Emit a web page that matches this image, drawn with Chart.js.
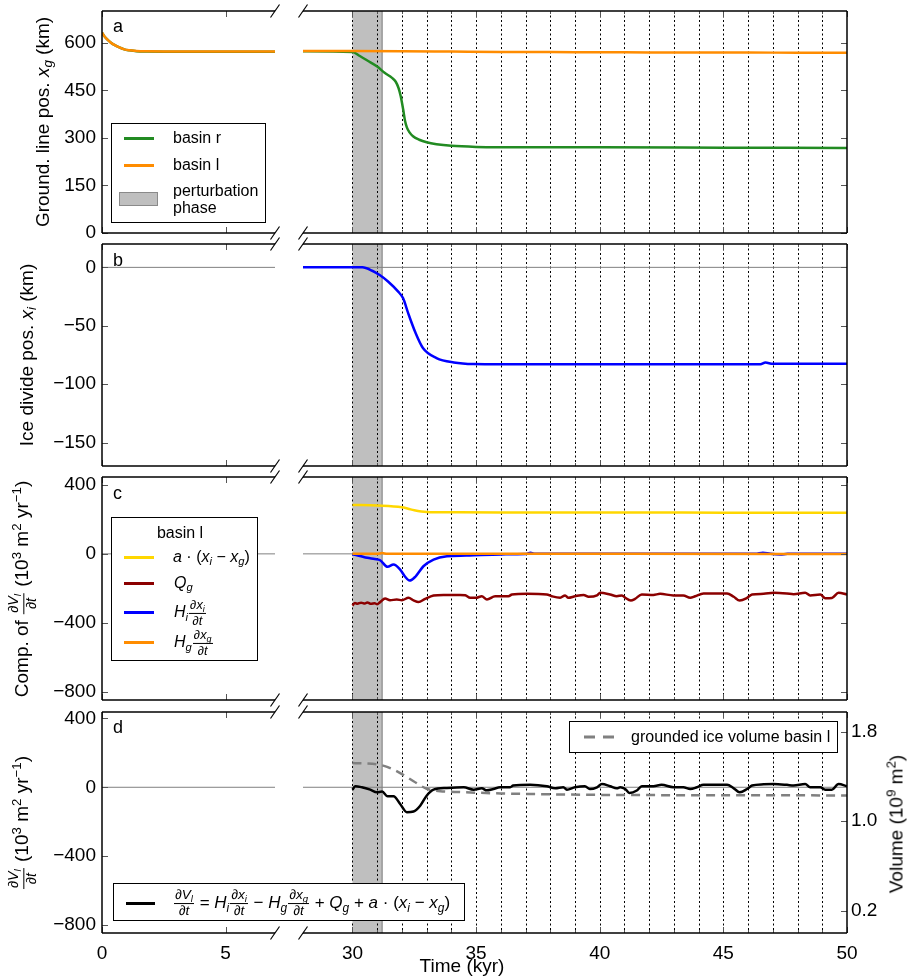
<!DOCTYPE html>
<html><head><meta charset="utf-8">
<script src="https://cdn.jsdelivr.net/npm/chart.js@4.4.1/dist/chart.umd.min.js"></script>
<style>
html,body{margin:0;padding:0;background:#fff;}
#fig{position:relative;width:907px;height:979px;overflow:hidden;font-family:"Liberation Sans",Arial,sans-serif;color:#000;}
#fig canvas{position:absolute;}
.yl{position:absolute;white-space:nowrap;font-size:19px;line-height:1;transform:translate(-50%,-50%) rotate(-90deg);}
.lab{position:absolute;white-space:nowrap;line-height:1;transform:translate(-50%,-50%);}
.let{position:absolute;font-size:18px;line-height:1;}
.leg{position:absolute;border:1px solid #000;background:#fff;box-sizing:border-box;font-size:16px;}
.lt{position:absolute;white-space:nowrap;line-height:1;transform:translateY(-50%);}
.sw{position:absolute;height:0;}
.s{font-size:0.7em;vertical-align:-0.3em;line-height:0;font-style:italic;}
.p{font-size:0.7em;vertical-align:0.55em;line-height:0;}
.fr{display:inline-block;vertical-align:middle;text-align:center;font-size:0.75em;line-height:1.1;margin:0 1px;}
.fr>span{display:block;}
.fr>span:first-child{border-bottom:1px solid currentColor;padding:0 1px 1px;}
.big .fr{font-size:0.8em;}
</style></head>
<body>
<div id="fig">
  <!-- panel letters -->
  <div class="let" style="left:113px;top:17px">a</div>
  <div class="let" style="left:113px;top:251px">b</div>
  <div class="let" style="left:113px;top:484px">c</div>
  <div class="let" style="left:113px;top:718px">d</div>

  <!-- axis titles -->
  <div class="yl" style="left:42px;top:122px">Ground. line pos. <i>x</i><span class="s">g</span> (km)</div>
  <div class="yl" style="left:26px;top:355px">Ice divide pos. <i>x</i><span class="s">i</span> (km)</div>
  <div class="yl" style="left:23px;top:589px">Comp. of <span class="fr"><span>∂<i>V</i><span class="s">l</span></span><span>∂<i>t</i></span></span> (10<span class="p">3</span> m<span class="p">2</span> yr<span class="p">−1</span>)</div>
  <div class="yl" style="left:23px;top:823px"><span class="fr"><span>∂<i>V</i><span class="s">l</span></span><span>∂<i>t</i></span></span> (10<span class="p">3</span> m<span class="p">2</span> yr<span class="p">−1</span>)</div>
  <div class="yl" style="left:896px;top:824px">Volume (10<span class="p">9</span> m<span class="p">2</span>)</div>
  <div class="lab" style="left:462px;top:965px;font-size:19px">Time (kyr)</div>
</div>

<script>
const FONT = '"Liberation Sans", Arial, sans-serif';
Chart.defaults.font.family = FONT;

// ---------------- axes / ticks ----------------
const xRangeLeft  = [0, 7];
const xRangeRight = [28, 50];
const xTicksLeft  = [0, 5];
const xTicksRight = [30, 35, 40, 45, 50];
const xMinorRight = [31, 32, 33, 34, 36, 37, 38, 39, 41, 42, 43, 44, 46, 47, 48, 49];
const kyrGridLines = [30, 31, 32, 33, 34, 35, 36, 37, 38, 39, 40, 41, 42, 43, 44, 45, 46, 47, 48, 49];
const perturbationPhase = [30, 31.2];

const yRangeA = [0, 700];     const yTicksA = [0, 150, 300, 450, 600];
const yRangeB = [-170, 20];   const yTicksB = [-150, -100, -50, 0];
const yRangeC = [-848, 446];  const yTicksC = [-800, -400, 0, 400];
const yRangeD = [-846, 437];  const yTicksD = [-800, -400, 0, 400];
const volRange = [0, 1.976];  const volTicks = [0.2, 1.0, 1.8];

// ---------------- panel a: grounding line position (km) ----------------
const tA_left   = [0, 0.1, 0.2, 0.35, 0.5, 0.7, 0.9, 1.1, 1.4, 1.8, 2.5, 3.5, 4.5, 5.5, 6.5, 7];
const xgL_left  = [632, 620, 611, 601, 593, 585, 579, 576, 574, 573, 572.5, 572.5, 572.5, 572.5, 572.5, 572.5];
const xgR_left  = [632, 620, 611, 601, 593, 585, 579, 576, 573, 572, 571.5, 571.5, 571.5, 571.5, 571.5, 571.5];
const tA_rightL = [28, 30, 32, 34, 36, 38, 40, 42, 44, 46, 48, 50];
const xgL_right = [573.5, 573.5, 573, 572, 571, 570.5, 570, 569.5, 569, 569, 568.5, 568.5];
const tA_rightR = [28, 30, 30.3, 30.6, 31.0, 31.3, 31.6, 31.75, 31.86, 31.95, 32.05, 32.13, 32.2, 32.3, 32.45, 32.7, 33.0, 33.4, 34, 35, 36, 40, 45, 50];
const xgR_right = [573, 571, 558, 544, 525, 505, 489, 477, 458, 432, 390, 352, 333, 318, 305, 294, 286, 280, 275, 271.5, 270.5, 270, 269, 268];

// ---------------- panel b: ice divide position (km) ----------------
const tB = [28, 30, 30.4, 30.8, 31.1, 31.45, 31.85, 32.05, 32.25, 32.55, 32.85, 33.4, 34.1, 34.9, 36, 40, 46.5, 46.7, 47, 50];
const xi = [0, 0, 0, -2.9, -6.6, -12.3, -20.8, -26.5, -39, -56, -69, -77.6, -81.4, -82.8, -83, -83, -83, -81.5, -82.5, -82.5];

// ---------------- panel c: components of dV/dt (basin l) ----------------
const tC_a = [30, 31, 32, 32.25, 32.5, 33, 34, 36, 40, 45, 50];
const accum = [284, 280, 270, 262, 253, 243, 241, 240, 240, 239, 238];
const tC_q = [30, 30.1, 30.2, 30.35, 30.5, 30.6, 30.75, 30.9, 31.0, 31.12, 31.32, 31.52, 31.79, 32.0, 32.27, 32.47, 32.67, 32.94, 33.28, 33.68, 34.35, 34.56, 34.76, 35.0, 35.23, 35.44, 35.77, 36.31, 36.45, 37.06, 37.86, 38.06, 38.4, 38.6, 38.73, 39.0, 39.35, 39.55, 39.89, 40.02, 40.42, 40.69, 40.9, 41.03, 41.26, 41.43, 41.7, 42.17, 42.44, 42.98, 43.38, 43.66, 43.86, 44.2, 45.15, 45.42, 45.66, 45.96, 46.16, 46.63, 47.03, 47.57, 47.84, 48.31, 48.51, 48.92, 49.12, 49.39, 49.66, 50];
const Qg   = [-300, -285, -290, -283, -288, -282, -290, -287, -292, -280, -259, -269, -265, -269, -255, -270, -280, -261, -242, -238, -238, -240, -255, -255, -246, -265, -246, -246, -236, -232, -236, -246, -255, -241, -255, -246, -238, -249, -241, -226, -236, -246, -241, -255, -271, -261, -236, -238, -232, -241, -241, -255, -246, -230, -230, -249, -271, -255, -236, -232, -226, -230, -234, -226, -241, -236, -258, -256, -226, -236];
const tC_h = [30, 30.3, 30.6, 30.9, 31.12, 31.42, 31.66, 31.93, 32.13, 32.31, 32.54, 32.87, 33.28, 33.82, 34.6, 35.2, 36, 37, 37.2, 37.4, 40, 46.3, 46.6, 46.9, 47.3, 47.6, 50];
const HiDxi = [-2, -12, -23, -30, -37, -75, -62, -91, -133, -155, -133, -72, -33, -14, -10, -6, -3, -1, 6, 0, 0, 0, 7, 0, -4, 0, 0];
const tC_g = [30, 31, 31.2, 31.4, 32, 40, 50];
const HgDxg = [0, 0, 5, 0, 0, 0, -1];

// ---------------- panel d: dV/dt and grounded volume ----------------
const tD = [30, 30.11, 30.38, 30.72, 30.99, 31.2, 31.42, 31.66, 31.93, 32.2, 32.47, 32.74, 33.0, 33.28, 33.82, 34.5, 34.9, 35.23, 35.43, 35.7, 35.97, 36.38, 36.5, 37.19, 37.86, 38.2, 38.53, 38.67, 39.0, 39.4, 39.6, 39.89, 40.09, 40.42, 40.69, 40.83, 41.03, 41.2, 41.5, 41.7, 42.17, 42.5, 42.98, 43.38, 43.66, 43.93, 44.2, 45.15, 45.42, 45.66, 45.96, 46.16, 46.63, 47.03, 47.57, 47.84, 48.31, 48.51, 48.92, 49.12, 49.39, 49.66, 50];
const dVdt = [-14, 6, 0, -14, -29, -25, -52, -52, -97, -145, -141, -107, -49, -14, -4, 0, -14, -6, -18, -10, 0, 0, 10, 15, 6, -6, 0, -14, 0, 6, -10, 0, 19, 6, -6, 0, -10, -33, -19, 6, 6, 14, 0, 0, -10, 0, 14, 14, -6, -29, -10, 10, 17, 19, 14, 10, 19, 0, 0, -14, -14, 19, 6];
const tVol = [30, 31, 31.4, 31.93, 32.47, 33.0, 33.55, 34.35, 36, 40, 45, 50];
const volume = [1.52, 1.507, 1.486, 1.43, 1.357, 1.29, 1.268, 1.26, 1.248, 1.235, 1.232, 1.23];

// ---------------- colours ----------------
const C_GREEN = '#228b22', C_ORANGE = '#ff8c00', C_BLUE = '#0000ff', C_GOLD = '#ffd700', C_DRED = '#8b0000', C_GRAY = '#808080';

// ---------------- helpers ----------------
function pts(ts, vs) { return ts.map((t, i) => ({ x: t, y: vs[i] })); }
function line(ts, vs, color, width, extra) {
  return Object.assign({ data: pts(ts, vs), borderColor: color, backgroundColor: color, borderWidth: width,
    pointRadius: 0, showLine: true, fill: false, cubicInterpolationMode: 'monotone' }, extra || {});
}
function zero(range) { return line(range, [0, 0], C_GRAY, 1, { order: 10 }); }
function fmtNum(v) { return v < 0 ? '\u2212' + Math.abs(v) : String(v); }

const fig = document.getElementById('fig');
const PAD = 20, XH = 42;

function makeDeco(s, isL) {
  return {
    id: 'deco',
    beforeDatasetsDraw(chart) {
      const { ctx, chartArea: a } = chart; const xs = chart.scales.x;
      if (isL) return;
      ctx.save();
      ctx.beginPath(); ctx.rect(a.left, a.top, a.right - a.left, a.bottom - a.top); ctx.clip();
      const x0 = xs.getPixelForValue(perturbationPhase[0]), x1 = xs.getPixelForValue(perturbationPhase[1]);
      ctx.fillStyle = '#bfbfbf'; ctx.fillRect(x0, a.top, x1 - x0, a.bottom - a.top);
      ctx.strokeStyle = '#8a8a8a'; ctx.lineWidth = 1.2;
      ctx.beginPath(); ctx.moveTo(x1, a.top); ctx.lineTo(x1, a.bottom); ctx.stroke();
      ctx.strokeStyle = '#000'; ctx.lineWidth = 1; ctx.setLineDash([2, 2.5]);
      kyrGridLines.forEach(t => {
        const x = Math.round(xs.getPixelForValue(t)) + 0.5;
        ctx.beginPath(); ctx.moveTo(x, a.top); ctx.lineTo(x, a.bottom); ctx.stroke();
      });
      ctx.restore();
    },
    afterDatasetsDraw(chart) {
      const { ctx, chartArea: a } = chart; const xs = chart.scales.x;
      const ys = s.y2 ? chart.scales.y2 : chart.scales.y;
      const yt = s.y2 ? volTicks : s.yTicks;
      const mk = (x0, y0, x1, y1) => { ctx.beginPath(); ctx.moveTo(x0, y0); ctx.lineTo(x1, y1); ctx.stroke(); };
      ctx.save(); ctx.setLineDash([]);
      ctx.strokeStyle = '#555'; ctx.lineWidth = 1;
      (isL ? xTicksLeft : xTicksRight).forEach(t => {
        const x = Math.round(xs.getPixelForValue(t)) + 0.5;
        mk(x, a.top, x, a.top + 6); mk(x, a.bottom, x, a.bottom - 6);
      });
      if (!isL) xMinorRight.forEach(t => {
        const x = Math.round(xs.getPixelForValue(t)) + 0.5;
        mk(x, a.top, x, a.top + 3); mk(x, a.bottom, x, a.bottom - 3);
      });
      yt.forEach(v => {
        const y = Math.round(ys.getPixelForValue(v)) + 0.5;
        if (isL) mk(a.left, y, a.left + 6, y); else mk(a.right, y, a.right - 6, y);
      });
      ctx.strokeStyle = '#000'; ctx.lineWidth = 1.5;
      mk(a.left, a.top, a.right, a.top); mk(a.left, a.bottom, a.right, a.bottom);
      if (isL) mk(a.left, a.top, a.left, a.bottom); else mk(a.right, a.top, a.right, a.bottom);
      const bx = isL ? a.right : a.left;
      ctx.lineWidth = 1.2;
      [a.top, a.bottom].forEach(y => mk(bx - 4.5, y + 6.5, bx + 4.5, y - 6.5));
      ctx.restore();
    }
  };
}

function makeChart(s) {
  const isL = s.side === 'left';
  const cv = document.createElement('canvas');
  const W = isL ? 290 : 617;
  const H = PAD + s.h + (s.bottom ? XH : PAD);
  cv.width = W; cv.height = H;
  cv.style.left = (isL ? 0 : 290) + 'px';
  cv.style.top = (s.top - PAD) + 'px';
  cv.style.width = W + 'px'; cv.style.height = H + 'px';
  fig.insertBefore(cv, fig.firstChild);
  const xr = isL ? xRangeLeft : xRangeRight;
  const xt = isL ? xTicksLeft : xTicksRight;
  const tickFont = { family: FONT, size: 19 };
  const xs = { type: 'linear', min: xr[0], max: xr[1], display: !!s.bottom,
    afterBuildTicks: sc => { sc.ticks = xt.map(v => ({ value: v })); },
    grid: { display: false, drawTicks: false }, border: { display: false },
    ticks: { padding: 9, color: '#000', font: tickFont, maxRotation: 0, autoSkip: false } };
  if (s.bottom) xs.afterFit = sc => { sc.height = XH; };
  const ysc = { type: 'linear', min: s.yRange[0], max: s.yRange[1], display: isL, position: 'left',
    afterBuildTicks: sc => { sc.ticks = s.yTicks.map(v => ({ value: v })); },
    grid: { display: false, drawTicks: false }, border: { display: false },
    ticks: { padding: 6, color: '#000', font: tickFont, callback: fmtNum, autoSkip: false } };
  if (isL) ysc.afterFit = sc => { sc.width = 102; };
  const scales = { x: xs, y: ysc };
  if (s.y2) {
    scales.y2 = { type: 'linear', position: 'right', min: volRange[0], max: volRange[1], display: true,
      afterBuildTicks: sc => { sc.ticks = volTicks.map(v => ({ value: v })); },
      afterFit: sc => { sc.width = 60; },
      grid: { display: false, drawTicks: false }, border: { display: false },
      ticks: { padding: 4, color: '#000', font: tickFont, callback: v => Number(v).toFixed(1), autoSkip: false } };
  }
  new Chart(cv, {
    type: 'scatter',
    data: { datasets: s.datasets },
    options: {
      responsive: false, animation: false, events: [], devicePixelRatio: 1,
      layout: { padding: { left: isL ? 0 : 13, right: isL ? 15 : (s.y2 ? 0 : 60), top: PAD, bottom: s.bottom ? 0 : PAD } },
      plugins: { legend: { display: false }, tooltip: { enabled: false } },
      scales
    },
    plugins: [makeDeco(s, isL)]
  });
}

const P = [{ top: 11, h: 222 }, { top: 244, h: 222 }, { top: 477, h: 223 }, { top: 712, h: 221 }];

// panel a
makeChart({ side: 'left', top: P[0].top, h: P[0].h, yRange: yRangeA, yTicks: yTicksA, datasets: [
  line(tA_left, xgL_left, C_ORANGE, 2.5, { order: 1 }),
  line(tA_left, xgR_left, C_GREEN, 2.5, { order: 2 }) ] });
makeChart({ side: 'right', top: P[0].top, h: P[0].h, yRange: yRangeA, yTicks: yTicksA, datasets: [
  line(tA_rightL, xgL_right, C_ORANGE, 2.5, { order: 1 }),
  line(tA_rightR, xgR_right, C_GREEN, 2.5, { order: 2 }) ] });
// panel b
makeChart({ side: 'left', top: P[1].top, h: P[1].h, yRange: yRangeB, yTicks: yTicksB, datasets: [ zero(xRangeLeft) ] });
makeChart({ side: 'right', top: P[1].top, h: P[1].h, yRange: yRangeB, yTicks: yTicksB, datasets: [
  line(tB, xi, C_BLUE, 2.5, { order: 1 }), zero(xRangeRight) ] });
// panel c
makeChart({ side: 'left', top: P[2].top, h: P[2].h, yRange: yRangeC, yTicks: yTicksC, datasets: [ zero(xRangeLeft) ] });
makeChart({ side: 'right', top: P[2].top, h: P[2].h, yRange: yRangeC, yTicks: yTicksC, datasets: [
  line(tC_g, HgDxg, C_ORANGE, 2.5, { order: 1 }),
  line(tC_h, HiDxi, C_BLUE, 2.5, { order: 2 }),
  line(tC_q, Qg, C_DRED, 2.5, { order: 3 }),
  line(tC_a, accum, C_GOLD, 2.5, { order: 4 }),
  zero(xRangeRight) ] });
// panel d
makeChart({ side: 'left', top: P[3].top, h: P[3].h, bottom: true, yRange: yRangeD, yTicks: yTicksD, datasets: [ zero(xRangeLeft) ] });
makeChart({ side: 'right', top: P[3].top, h: P[3].h, bottom: true, y2: true, yRange: yRangeD, yTicks: yTicksD, datasets: [
  line(tD, dVdt, '#000', 2.5, { order: 1 }),
  line(tVol, volume, C_GRAY, 2.5, { order: 2, yAxisID: 'y2', borderDash: [9, 6] }),
  zero(xRangeRight) ] });
</script>

<!-- legends (overlay) -->
<div id="legs" style="position:absolute;left:0;top:0;width:907px;height:979px;font-family:'Liberation Sans',Arial,sans-serif;pointer-events:none">
  <div class="leg" style="left:111px;top:123px;width:155px;height:100px">
    <div class="sw" style="left:12px;top:12.5px;width:30px;border-top:3px solid #228b22"></div>
    <div class="lt" style="left:61px;top:14px">basin r</div>
    <div class="sw" style="left:12px;top:39.5px;width:30px;border-top:3px solid #ff8c00"></div>
    <div class="lt" style="left:61px;top:41px">basin l</div>
    <div style="position:absolute;left:7px;top:68px;width:39px;height:14px;background:#bfbfbf;border:1px solid #8a8a8a;box-sizing:border-box"></div>
    <div class="lt" style="left:61px;top:75px;line-height:16.5px">perturbation<br>phase</div>
  </div>

  <div class="leg" style="left:111px;top:517px;width:147px;height:144px">
    <div class="lt" style="left:68px;top:15px;transform:translate(-50%,-50%)">basin l</div>
    <div class="sw" style="left:12px;top:37.5px;width:30px;border-top:3px solid #ffd700"></div>
    <div class="lt" style="left:61px;top:39px"><i>a</i> · (<i>x</i><span class="s">i</span> − <i>x</i><span class="s">g</span>)</div>
    <div class="sw" style="left:12px;top:63.8px;width:30px;border-top:3px solid #8b0000"></div>
    <div class="lt" style="left:62px;top:65.3px"><i>Q</i><span class="s">g</span></div>
    <div class="sw" style="left:12px;top:93.2px;width:30px;border-top:3px solid #0000ff"></div>
    <div class="lt big" style="left:62px;top:94.7px"><i>H</i><span class="s">i</span><span class="fr"><span>∂<i>x</i><span class="s">i</span></span><span>∂<i>t</i></span></span></div>
    <div class="sw" style="left:12px;top:123.2px;width:30px;border-top:3px solid #ff8c00"></div>
    <div class="lt big" style="left:62px;top:124.7px"><i>H</i><span class="s">g</span><span class="fr"><span>∂<i>x</i><span class="s">g</span></span><span>∂<i>t</i></span></span></div>
  </div>

  <div class="leg" style="left:113px;top:883px;width:352px;height:38px">
    <div class="sw" style="left:12px;top:17.5px;width:29px;border-top:3px solid #000"></div>
    <div class="lt big" style="left:59px;top:19.5px;font-size:17px"><span class="fr"><span>∂<i>V</i><span class="s">l</span></span><span>∂<i>t</i></span></span> = <i>H</i><span class="s">i</span><span class="fr"><span>∂<i>x</i><span class="s">i</span></span><span>∂<i>t</i></span></span> − <i>H</i><span class="s">g</span><span class="fr"><span>∂<i>x</i><span class="s">g</span></span><span>∂<i>t</i></span></span> + <i>Q</i><span class="s">g</span> + <i>a</i> · (<i>x</i><span class="s">i</span> − <i>x</i><span class="s">g</span>)</div>
  </div>

  <div class="leg" style="left:569px;top:721px;width:269px;height:32px">
    <svg style="position:absolute;left:14px;top:13px" width="30" height="4"><line x1="0" y1="2" x2="30" y2="2" stroke="#808080" stroke-width="3" stroke-dasharray="11 8"/></svg>
    <div class="lt" style="left:61px;top:15px">grounded ice volume basin l</div>
  </div>
</div>
</body></html>
